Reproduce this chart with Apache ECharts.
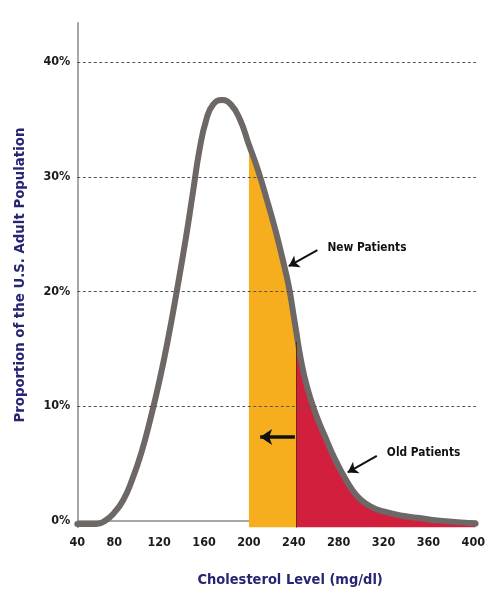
<!DOCTYPE html>
<html><head><meta charset="utf-8">
<script src="https://cdn.jsdelivr.net/npm/echarts@6/dist/echarts.min.js"></script>
<style>html,body{margin:0;padding:0;background:#fff}#c{width:497px;height:609px}</style>
</head><body><div id="c"></div>
<script>
// Cholesterol level (mg/dl) and proportion of the U.S. adult population (%)
const cholesterol = [47, 64, 72, 80, 88, 96, 104, 112, 120, 128, 136, 144, 150, 156, 162, 168, 176, 184, 192, 200, 208, 216, 224, 232, 236, 240, 242, 246, 252, 260, 268, 276, 284, 292, 300, 310, 320, 335, 350, 370, 402];
const proportion  = [-0.3, -0.3, 0.0, 0.7, 1.8, 3.6, 5.9, 8.8, 12.1, 15.9, 20.2, 24.8, 28.6, 32.4, 35.0, 36.3, 36.7, 36.3, 35.0, 32.8, 30.6, 28.0, 25.2, 22.0, 20.2, 17.8, 16.6, 14.2, 11.6, 9.2, 7.3, 5.5, 4.0, 2.7, 1.8, 1.15, 0.8, 0.45, 0.25, 0.0, -0.25];

const xTicks = [40, 80, 120, 160, 200, 240, 280, 320, 360, 400];
const yTicks = [0, 10, 20, 30, 40];

const newThreshold = 200;   // start of "New Patients" band
const oldThreshold = 242;   // start of "Old Patients" band (as drawn)

const annotations = [
  { text: 'New Patients', at: [269.5, 23.8], arrowFrom: [261, 23.6], arrowTo: [235.5, 22.2] },
  { text: 'Old Patients', at: [322.5, 5.9], arrowFrom: [314, 5.65], arrowTo: [288, 4.2] }
];
const shiftArrow = { from: [241, 7.3], to: [210, 7.3] };

const X_MIN = 47, X_MAX = 402.4, Y_MIN = -0.6, Y_MAX = 43.45;

const curve = cholesterol.map((x, i) => [x, proportion[i]]);
const orangePts = curve.filter(p => p[0] >= newThreshold && p[0] <= oldThreshold);
const redPts = curve.filter(p => p[0] >= oldThreshold);
const valueAt = x => curve.find(p => p[0] === x)[1];

const FONT = "'DejaVu Sans Condensed','Liberation Sans',sans-serif";

const chart = echarts.init(document.getElementById('c'), null, { renderer: 'canvas' });
chart.setOption({
  animation: false,
  backgroundColor: '#ffffff',
  grid: { left: 77.3, right: 21, top: 22.7, bottom: 81.5, containLabel: false },
  xAxis: {
    type: 'value', min: X_MIN, max: X_MAX,
    axisLine: { show: true, lineStyle: { color: '#8a8a8a', width: 1.5 } },
    axisTick: { show: false },
    splitLine: { show: false },
    axisLabel: {
      customValues: xTicks.map(v => Math.max(v, X_MIN)),
      formatter: v => String(xTicks.reduce((a, b) => Math.abs(Math.max(b, X_MIN) - v) < Math.abs(Math.max(a, X_MIN) - v) ? b : a)),
      color: '#1a1a1a', fontFamily: FONT, fontWeight: 'bold', fontSize: 12.5, margin: 9
    },
    name: 'Cholesterol Level (mg/dl)', nameLocation: 'middle', nameGap: 45,
    nameTextStyle: { color: '#262673', fontFamily: FONT, fontWeight: 'bold', fontSize: 14.5, padding: [0, 0, 0, 27] }
  },
  yAxis: {
    type: 'value', min: Y_MIN, max: Y_MAX,
    axisLine: { show: true, lineStyle: { color: '#8a8a8a', width: 1.5 } },
    axisTick: { show: false },
    splitLine: { show: false },
    axisLabel: {
      customValues: yTicks,
      formatter: '{value}%',
      color: '#1a1a1a', fontFamily: FONT, fontWeight: 'bold', fontSize: 12.5, margin: 7
    },
    name: 'Proportion of the U.S. Adult Population', nameLocation: 'middle', nameGap: 50, nameRotate: 90,
    nameTextStyle: { color: '#262673', fontFamily: FONT, fontWeight: 'bold', fontSize: 14.8 }
  },
  series: [
    {
      type: 'line', data: [], z: 1, silent: true,
      markLine: {
        silent: true, symbol: 'none', label: { show: false },
        lineStyle: { color: '#555', width: 1, type: [3, 2.5] },
        data: yTicks.filter(v => v > 0).map(v => ({ yAxis: v }))
      }
    },
    {
      type: 'line', data: orangePts, smooth: true, showSymbol: false, z: 2,
      lineStyle: { width: 0 },
      areaStyle: { color: '#F6AE1E', opacity: 1, origin: 'start' }
    },
    {
      type: 'line', data: redPts, smooth: true, showSymbol: false, z: 2,
      lineStyle: { width: 0 },
      areaStyle: { color: '#D21F3E', opacity: 1, origin: 'start' },
      markLine: {
        silent: true, symbol: 'none', label: { show: false },
        lineStyle: { color: '#6b2a14', width: 1, type: 'solid' },
        data: [[{ coord: [oldThreshold, Y_MIN] }, { coord: [oldThreshold, valueAt(oldThreshold) - 1] }]]
      }
    },
    {
      type: 'line', data: curve, smooth: true, showSymbol: false, z: 3,
      lineStyle: { color: '#6D6765', width: 6, cap: 'round', join: 'round' }
    },
    {
      type: 'line', data: [], z: 4, silent: true,
      markLine: {
        silent: true, label: { show: false }, symbol: ['none', 'arrow'],
        data: annotations.map(a => [
          { coord: a.arrowFrom, symbol: 'none', lineStyle: { color: '#111', width: 2, type: 'solid' } },
          { coord: a.arrowTo, symbol: 'arrow', symbolSize: 10 }
        ]).concat([[
          { coord: shiftArrow.from, symbol: 'none', lineStyle: { color: '#111', width: 3.5, type: 'solid' } },
          { coord: shiftArrow.to, symbol: 'arrow', symbolSize: 12 }
        ]])
      },
      markPoint: {
        silent: true, symbol: 'circle', symbolSize: 1, itemStyle: { color: 'rgba(0,0,0,0)' },
        data: annotations.map(a => ({
          coord: a.at, value: a.text,
          label: { show: true, position: 'right', distance: 0, formatter: a.text,
                   color: '#111', fontFamily: FONT, fontWeight: 'bold', fontSize: 11.8 }
        }))
      }
    }
  ]
});
</script></body></html>
